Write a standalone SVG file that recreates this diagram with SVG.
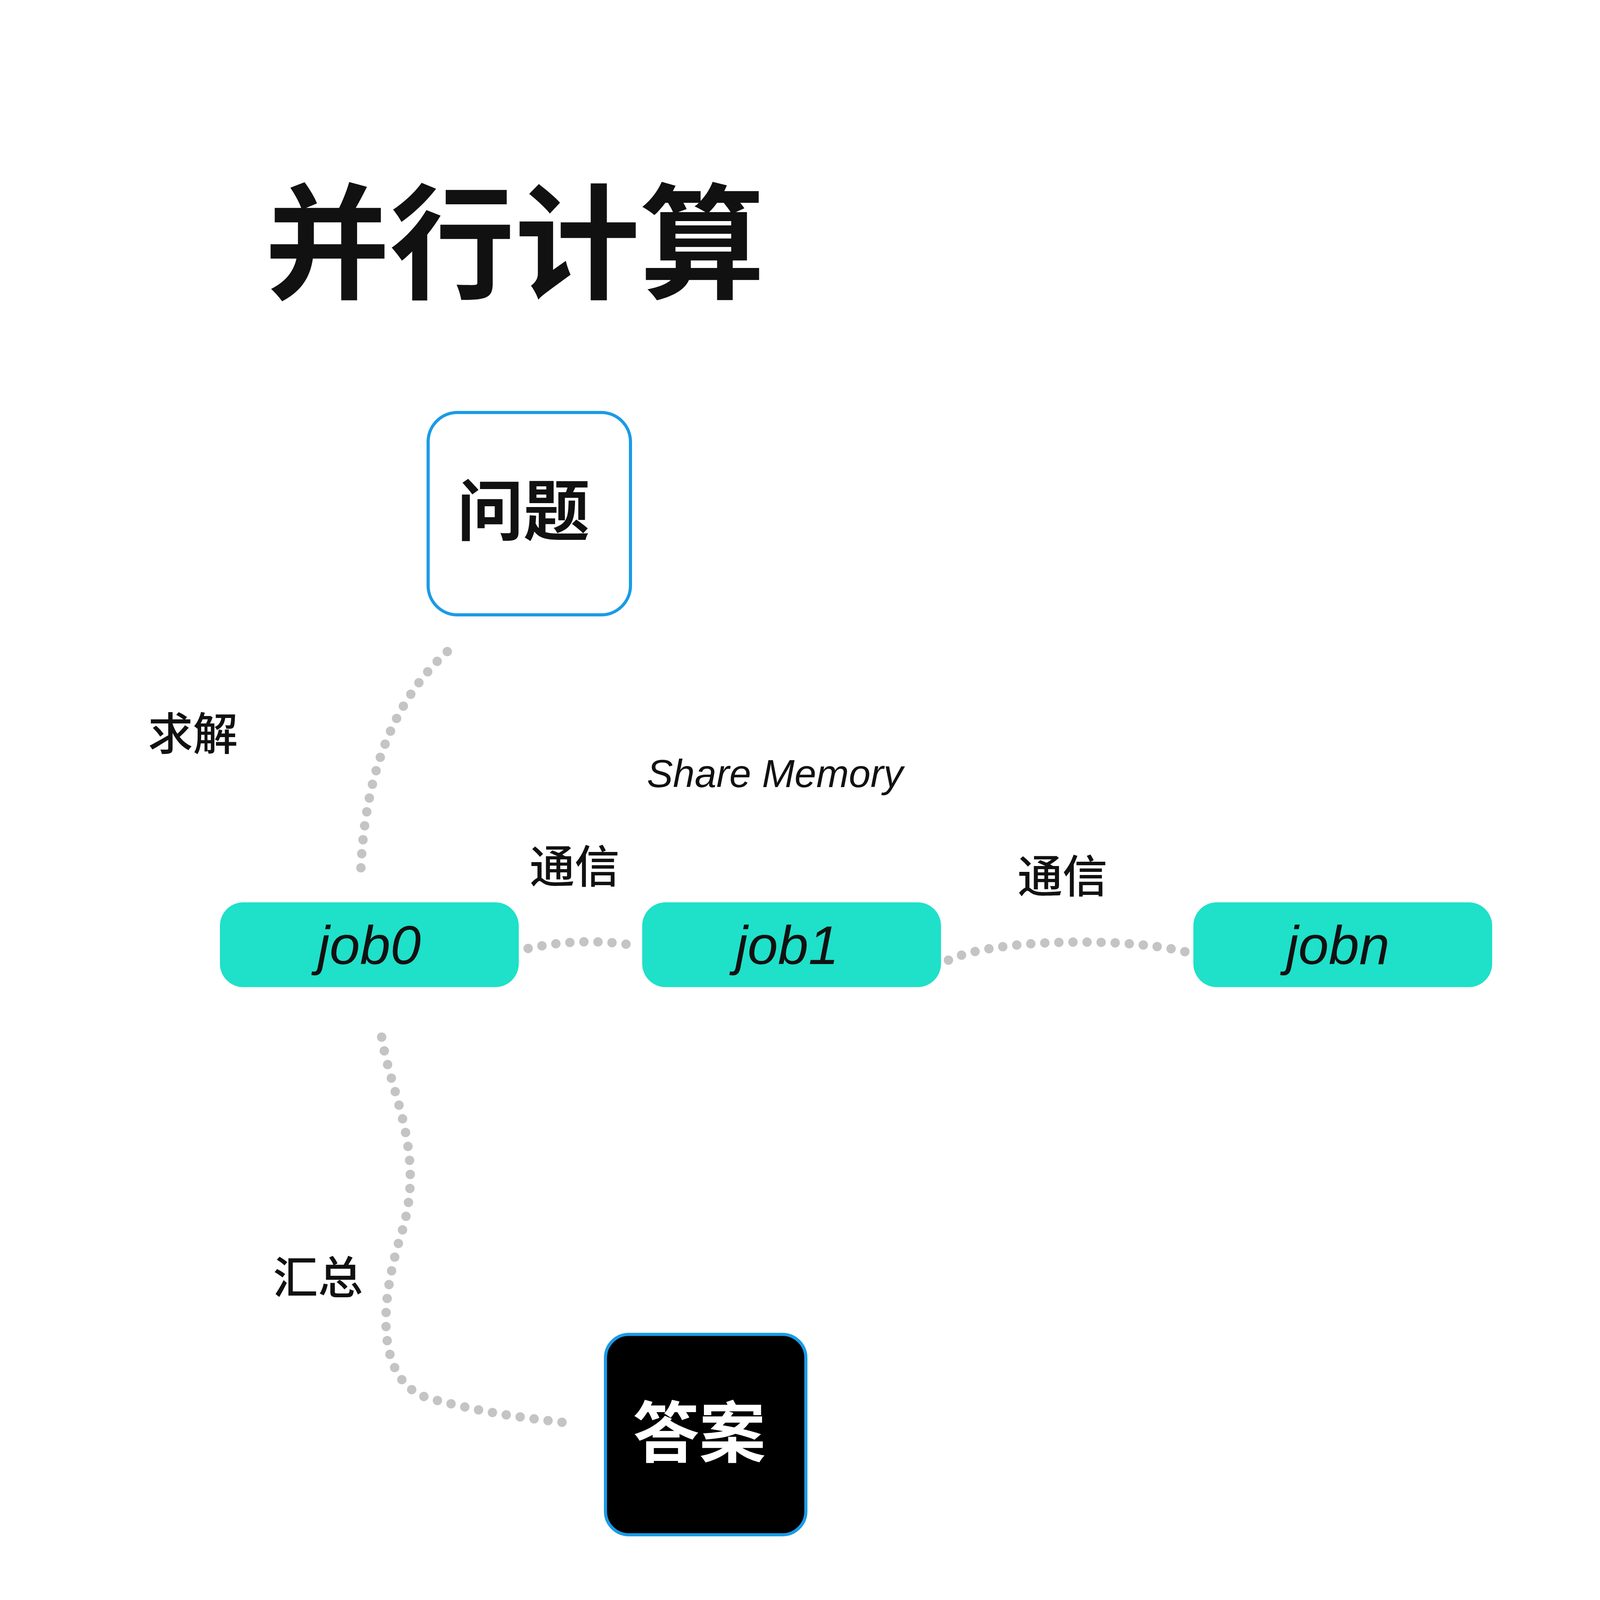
<svg xmlns="http://www.w3.org/2000/svg" width="7680" height="4320" viewBox="0 0 7680 4320">
<style>
text{font-family:"Liberation Sans","Noto Sans CJK SC",sans-serif;text-anchor:middle;fill:#111}
.title{font-size:320px;font-weight:700;font-family:"Noto Sans CJK SC",sans-serif}
.box{fill:#fff;stroke:#1a9be6;stroke-width:8}
.boxd{fill:#000;stroke:#1a9be6;stroke-width:8}
.bt{font-size:170px;font-weight:700;font-family:"Noto Sans CJK SC",sans-serif}
.pill{fill:#1fe0c9}
.pt{font-size:140px;font-style:italic;font-family:"Liberation Sans Narrow","Liberation Sans",sans-serif}
.lb{font-size:115px;font-weight:500;font-family:"Noto Sans CJK SC",sans-serif}
.dot{fill:none;stroke:#c4c4c4;stroke-width:24;stroke-linecap:round;stroke-dasharray:0 36}
</style>
<text class="title" x="1318" y="740">并行计算</text>
<text class="title" x="5711" y="740">分布式计算</text>
<g id="connectors">
<path class="dot" d="M1145,1668 C1000,1800 930,2000 923,2246"/>
<path class="dot" d="M1352,2428 Q1480,2400 1609,2418"/>
<path class="dot" d="M2428,2458 C2550,2400 2900,2400 3040,2438"/>
<path class="dot" d="M977,2655 C1000,2800 1090,2950 1030,3150 C950,3400 990,3550 1100,3580 C1250,3620 1350,3630 1446,3642"/>
<path class="dot" d="M5330,1283 C5150,1400 4950,1400 4800,1600 C4560,1900 4560,2050 4590,2170"/>
<path class="dot" d="M5750,1594 C5800,1750 5730,1850 5730,2196"/>
<path class="dot" d="M6085,1244 C6350,1260 6450,1450 6580,1650 C6700,1850 6900,1800 7040,2230"/>
<path class="dot" d="M4664,2680 C4620,3000 4700,3100 4900,3200 C5100,3300 5200,3390 5345,3395"/>
<path class="dot" d="M5790,2700 C5720,2900 5700,3100 5740,3260"/>
<path class="dot" d="M6945,2705 C6930,2850 6700,2950 6560,3000 C6400,3080 6450,3250 6300,3320 C6200,3360 6150,3370 6140,3380"/>
</g>
<g id="l-wenti"><rect class="box" x="1096" y="1056" width="518" height="518" rx="75"/><text class="bt" x="1340" y="1370">问题</text></g>
<g id="l-daan"><rect class="boxd" x="1550" y="3416" width="513" height="513" rx="60"/><text class="bt" x="1790" y="3730" style="fill:#fff">答案</text></g>
<g id="r-wenti"><rect class="box" x="5469" y="982" width="513" height="513" rx="75"/><text class="bt" x="5711" y="1295">问题</text></g>
<g id="r-daan"><rect class="box" x="5484" y="3401" width="513" height="513" rx="75"/><text class="bt" x="5720" y="3715">答案</text></g>
<g id="l-job0"><rect class="pill" x="563" y="2310" width="765" height="217" rx="60"/><text class="pt" x="945" y="2468">job0</text></g>
<g id="l-job1"><rect class="pill" x="1644" y="2310" width="765" height="217" rx="60"/><text class="pt" x="2015" y="2468">job1</text></g>
<g id="l-jobn"><rect class="pill" x="3055" y="2310" width="765" height="217" rx="60"/><text class="pt" x="3425" y="2468">jobn</text></g>
<g id="r-job0"><rect class="pill" x="4275" y="2310" width="765" height="217" rx="60"/><text class="pt" x="4655" y="2468">job0</text></g>
<g id="r-job1"><rect class="pill" x="5356" y="2310" width="765" height="217" rx="60"/><text class="pt" x="5725" y="2468">job1</text></g>
<g id="r-jobn"><rect class="pill" x="6762" y="2310" width="770" height="217" rx="60"/><text class="pt" x="7140" y="2468">jobn</text></g>
<g id="plus"><rect x="6347" y="2405" width="170" height="28" fill="#111"/><rect x="6418" y="2334" width="28" height="170" fill="#111"/></g>
<g id="labels">
<text class="lb" x="494" y="1920">求解</text>
<text class="pt" x="1984" y="2015" style="font-size:100px">Share Memory</text>
<text class="lb" x="1471" y="2260">通信</text>
<text class="lb" x="2720" y="2285">通信</text>
<text class="lb" x="814" y="3312">汇总</text>
<text class="lb" x="5153" y="1885">求解</text>
</g>
</svg>
